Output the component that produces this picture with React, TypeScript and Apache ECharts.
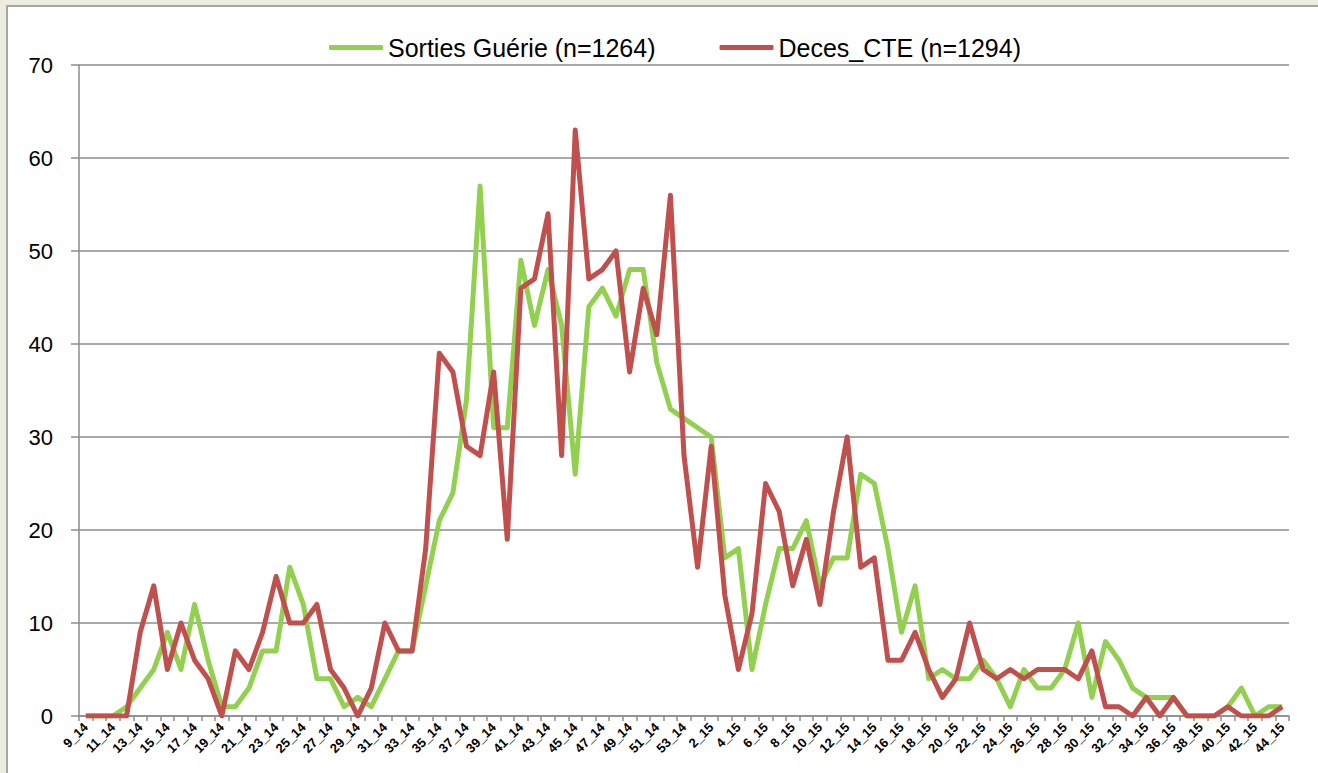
import React, { useEffect, useRef } from "react";
import * as echarts from "echarts";

const weeks2014: string[] = [
  "9_14","10_14","11_14","12_14","13_14","14_14","15_14","16_14","17_14","18_14",
  "19_14","20_14","21_14","22_14","23_14","24_14","25_14","26_14","27_14","28_14",
  "29_14","30_14","31_14","32_14","33_14","34_14","35_14","36_14","37_14","38_14",
  "39_14","40_14","41_14","42_14","43_14","44_14","45_14","46_14","47_14","48_14",
  "49_14","50_14","51_14","52_14","53_14",
];
const weeks2015: string[] = [
  "1_15","2_15","3_15","4_15","5_15","6_15","7_15","8_15","9_15","10_15",
  "11_15","12_15","13_15","14_15","15_15","16_15","17_15","18_15","19_15","20_15",
  "21_15","22_15","23_15","24_15","25_15","26_15","27_15","28_15","29_15","30_15",
  "31_15","32_15","33_15","34_15","35_15","36_15","37_15","38_15","39_15","40_15",
  "41_15","42_15","43_15","44_15",
];
const categories: string[] = [...weeks2014, ...weeks2015];

const sortiesGuerie: number[] = [
  0, 0, 0, 1, 3, 5, 9, 5, 12, 6,
  1, 1, 3, 7, 7, 16, 12, 4, 4, 1,
  2, 1, 4, 7, 7, 14, 21, 24, 34, 57,
  31, 31, 49, 42, 48, 42, 26, 44, 46, 43,
  48, 48, 38, 33, 32, 31, 30, 17, 18, 5,
  12, 18, 18, 21, 14, 17, 17, 26, 25, 18,
  9, 14, 4, 5, 4, 4, 6, 4, 1, 5,
  3, 3, 5, 10, 2, 8, 6, 3, 2, 2,
  2, 0, 0, 0, 1, 3, 0, 1, 1,
];
const decesCTE: number[] = [
  0, 0, 0, 0, 9, 14, 5, 10, 6, 4,
  0, 7, 5, 9, 15, 10, 10, 12, 5, 3,
  0, 3, 10, 7, 7, 18, 39, 37, 29, 28,
  37, 19, 46, 47, 54, 28, 63, 47, 48, 50,
  37, 46, 41, 56, 28, 16, 29, 13, 5, 11,
  25, 22, 14, 19, 12, 22, 30, 16, 17, 6,
  6, 9, 5, 2, 4, 10, 5, 4, 5, 4,
  5, 5, 5, 4, 7, 1, 1, 0, 2, 0,
  2, 0, 0, 0, 1, 0, 0, 0, 1,
];

const seriesNames = ["Sorties Guérie (n=1264)", "Deces_CTE (n=1294)"];
const yTicks = { min: 0, max: 70, interval: 10 };

export default function App() {
  const ref = useRef<HTMLDivElement>(null);
  useEffect(() => {
    if (!ref.current) return;
    const chart = echarts.init(ref.current, undefined, { renderer: "svg" });
    const font = "'Liberation Sans', Arial, sans-serif";
    chart.setOption({
      animation: false,
      backgroundColor: "transparent",
      textStyle: { fontFamily: font },
      legend: {
        left: 324,
        top: 30,
        itemWidth: 54,
        itemHeight: 5,
        itemGap: 64,
        icon: "roundRect",
        textStyle: { fontSize: 25, color: "#000", fontFamily: font },
        data: seriesNames,
      },
      grid: { left: 79, right: 29, top: 65, bottom: 57, containLabel: false },
      xAxis: {
        type: "category",
        data: categories,
        boundaryGap: true,
        axisLine: { lineStyle: { color: "#8c8c8c", width: 1.5 } },
        axisTick: { show: true, interval: 0, length: 5, lineStyle: { color: "#8c8c8c", width: 1.5 } },
        axisLabel: {
          interval: 1,
          rotate: 45,
          margin: 9,
          fontSize: 13,
          fontWeight: "bold",
          color: "#000",
          fontFamily: font,
        },
      },
      yAxis: {
        type: "value",
        min: yTicks.min,
        max: yTicks.max,
        interval: yTicks.interval,
        axisLine: { show: true, lineStyle: { color: "#8c8c8c", width: 1.5 } },
        axisTick: { show: true, length: 8, lineStyle: { color: "#8c8c8c", width: 1.5 } },
        axisLabel: { fontSize: 22, color: "#000", margin: 26, fontFamily: font },
        splitLine: { show: true, lineStyle: { color: "#8c8c8c", width: 1.5 } },
      },
      series: [
        {
          name: seriesNames[0],
          type: "line",
          data: sortiesGuerie,
          showSymbol: false,
          symbol: "none",
          color: "#92D050",
          lineStyle: { color: "#92D050", width: 5, join: "round" },
          z: 2,
        },
        {
          name: seriesNames[1],
          type: "line",
          data: decesCTE,
          showSymbol: false,
          symbol: "none",
          color: "#C0504D",
          lineStyle: { color: "#C0504D", width: 5, join: "round" },
          z: 3,
        },
      ],
    });
    return () => chart.dispose();
  }, []);

  return (
    <div style={{ position: "fixed", left: 0, top: 0, width: 1318, height: 773, background: "#EEECE1", overflow: "hidden" }}>
      <div
        style={{
          position: "absolute",
          left: 6,
          top: 5,
          width: 1318,
          height: 773,
          background: "#ffffff",
          borderLeft: "2px solid #a6a6a6",
          borderTop: "2px solid #a6a6a6",
        }}
      />
      <div ref={ref} style={{ position: "absolute", left: 0, top: 0, width: 1318, height: 773 }} />
    </div>
  );
}
